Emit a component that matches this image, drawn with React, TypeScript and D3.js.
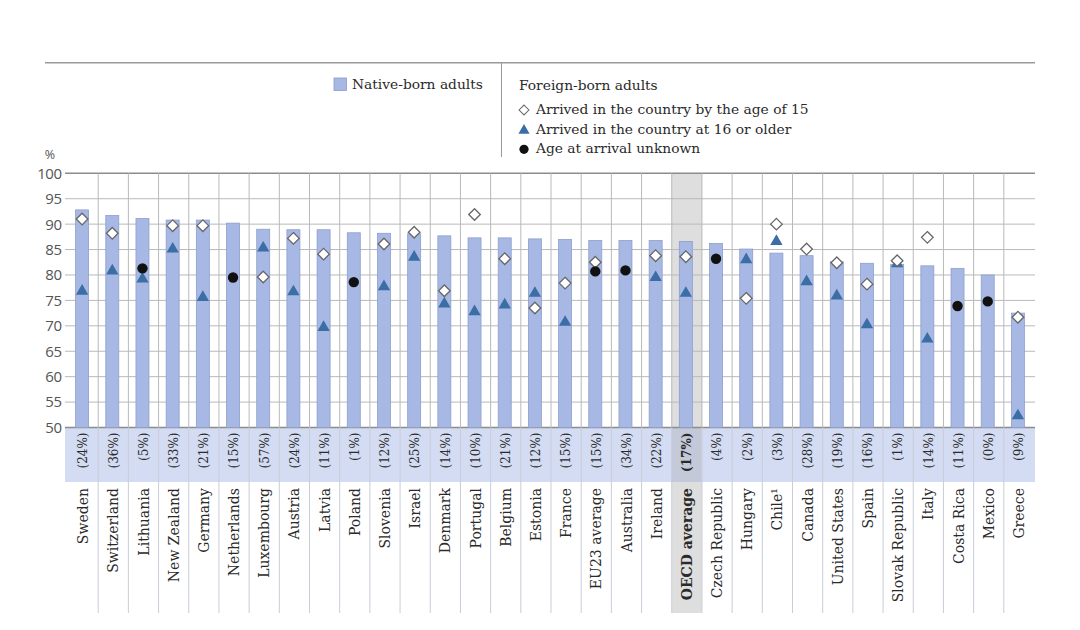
import React from "react";
import * as d3 from "d3";

const countries = ["Sweden","Switzerland","Lithuania","New Zealand","Germany","Netherlands","Luxembourg","Austria","Latvia","Poland","Slovenia","Israel","Denmark","Portugal","Belgium","Estonia","France","EU23 average","Australia","Ireland","OECD average","Czech Republic","Hungary","Chile¹","Canada","United States","Spain","Slovak Republic","Italy","Costa Rica","Mexico","Greece"];
const shares = ["(24%)","(36%)","(5%)","(33%)","(21%)","(15%)","(57%)","(24%)","(11%)","(1%)","(12%)","(25%)","(14%)","(10%)","(21%)","(12%)","(15%)","(15%)","(34%)","(22%)","(17%)","(4%)","(2%)","(3%)","(28%)","(19%)","(16%)","(1%)","(14%)","(11%)","(0%)","(9%)"];
const nativeBorn = [92.8,91.7,91.1,90.8,90.8,90.2,89.0,88.9,88.9,88.3,88.2,88.1,87.7,87.3,87.3,87.1,87.0,86.8,86.8,86.8,86.6,86.2,85.1,84.3,83.8,82.6,82.3,82.1,81.8,81.3,80.0,72.5];
const arrivedBy15: (number | null)[] = [91.0,88.2,null,89.7,89.7,null,79.6,87.2,84.1,null,86.1,88.4,76.9,91.9,83.2,73.5,78.4,82.5,null,83.8,83.6,null,75.4,90.0,85.1,82.4,78.2,82.8,87.4,null,null,71.7];
const arrived16: (number | null)[] = [76.8,80.8,79.2,85.1,75.6,null,85.3,76.7,69.7,null,77.7,83.5,74.3,72.8,74.1,76.4,70.7,null,null,79.5,76.4,null,83.0,86.6,78.7,75.9,70.2,82.2,67.4,null,null,52.3];
const unknownAge: (number | null)[] = [null,null,81.3,null,null,79.5,null,null,null,78.6,null,null,null,null,null,null,null,80.7,80.9,null,null,83.2,null,null,null,null,null,null,null,73.9,74.8,null];
const highlight = "OECD average";
const legendNative = "Native-born adults";
const legendForeignTitle = "Foreign-born adults";
const legendItems = ["Arrived in the country by the age of 15","Arrived in the country at 16 or older","Age at arrival unknown"];

const SERIF = "'DejaVu Serif', serif";
const SANS = "'Open Sans', sans-serif";

export default function App() {
  const x = d3.scaleBand<string>().domain(countries).range([68, 1034]).paddingInner(0).paddingOuter(0);
  const y = d3.scaleLinear().domain([50, 100]).range([427.5, 173.3]);
  const bw = x.bandwidth();
  const barW = 13;
  const yTicks = y.ticks(10);
  const tri = d3.symbol().type(d3.symbolTriangle).size(66)() as string;
  const dia = "M0,-5.8L5.8,0L0,5.8L-5.8,0Z";
  const bandTop = 428, bandBot = 482, sepBot = 613;
  const cx = (c: string) => (x(c) as number) + bw / 2;
  const hx = x(highlight) as number;

  return (
    <svg width={1080} height={630} style={{ position: "absolute", left: 0, top: 0, background: "#fff" }}>
      <line x1={45} x2={1035} y1={62.7} y2={62.7} stroke="#9a9a9a" strokeWidth={1.6} />
      <rect x={334} y={78} width={12.5} height={12.5} fill="#a6b8e3" stroke="#8a9bc8" strokeWidth={0.8} />
      <text x={352} y={88.5} fontFamily={SERIF} fontSize={13.8} fill="#2a2a2a">{legendNative}</text>
      <line x1={501.5} x2={501.5} y1={63} y2={157} stroke="#999" strokeWidth={1} />
      <text x={519} y={90} fontFamily={SERIF} fontSize={13.8} fill="#2a2a2a">{legendForeignTitle}</text>
      <path d={dia} transform="translate(524,110) scale(0.85)" fill="#fff" stroke="#666" strokeWidth={1.2} />
      <path d={tri} transform="translate(524,130.5) scale(0.9)" fill="#3b6ea5" />
      <circle cx={524} cy={149.3} r={4.6} fill="#111" />
      {legendItems.map((t, i) => (
        <text key={t} x={536} y={114 + i * 19.5} fontFamily={SERIF} fontSize={13.8} fill="#2a2a2a">{t}</text>
      ))}

      <rect x={hx} y={173.3} width={bw} height={sepBot - 173.3} fill="#dedede" />
      <rect x={65} y={bandTop} width={1035 - 65} height={bandBot - bandTop} fill="#d3dcf2" />
      <rect x={hx} y={bandTop} width={bw} height={bandBot - bandTop} fill="#c3c9d9" />

      {yTicks.map((t) => (
        <line key={t} x1={65} x2={1035} y1={y(t)} y2={y(t)}
          stroke={t === 100 || t === 50 ? "#8c8c8c" : "#b9b9b9"} strokeWidth={t === 100 || t === 50 ? 1.4 : 1} />
      ))}
      {countries.slice(1).map((c) => (
        <g key={c}>
          <line x1={x(c)} x2={x(c)} y1={173.3} y2={bandTop} stroke="#b9b9b9" strokeWidth={1} />
          <line x1={x(c)} x2={x(c)} y1={bandTop} y2={sepBot} stroke="#c9cdd8" strokeWidth={1} />
        </g>
      ))}
      {yTicks.map((t) => (
        <text key={t} x={61.5} y={y(t)} dy="0.36em" textAnchor="end" fontFamily={SANS} fontSize={15} fill="#555" letterSpacing={-0.5}>{t}</text>
      ))}
      <text x={50} y={159} textAnchor="middle" fontFamily={SANS} fontSize={12.5} fill="#555">%</text>

      {countries.map((c, i) => (
        <rect key={c} x={cx(c) - 1 - barW / 2} y={y(nativeBorn[i])} width={barW} height={y(50) - y(nativeBorn[i])}
          fill="#a6b8e3" stroke="#8e9fcb" strokeWidth={0.8} />
      ))}
      {countries.map((c, i) => (
        <g key={c}>
          {arrived16[i] != null && (
            <path d={tri} transform={`translate(${cx(c) - 1},${y(arrived16[i] as number)})`} fill="#3b6ea5" />
          )}
          {arrivedBy15[i] != null && (
            <path d={dia} transform={`translate(${cx(c) - 1},${y(arrivedBy15[i] as number)})`} fill="#fff" stroke="#666" strokeWidth={1.3} />
          )}
          {unknownAge[i] != null && (
            <circle cx={cx(c) - 1} cy={y(unknownAge[i] as number)} r={5.2} fill="#111" />
          )}
        </g>
      ))}

      {countries.map((c, i) => (
        <text key={c} x={cx(c)} y={432.5} dy="0.36em" textAnchor="end" transform={`rotate(-90,${cx(c)},432.5)`}
          fontFamily={SERIF} fontSize={12} fill="#2a2a2a" fontWeight={c === highlight ? "bold" : "normal"}>{shares[i]}</text>
      ))}
      {countries.map((c) => (
        <text key={c} x={cx(c)} y={488} dy="0.36em" textAnchor="end" transform={`rotate(-90,${cx(c)},488)`}
          fontFamily={SERIF} fontSize={14} fill="#2a2a2a" fontWeight={c === highlight ? "bold" : "normal"}>{c}</text>
      ))}
    </svg>
  );
}
